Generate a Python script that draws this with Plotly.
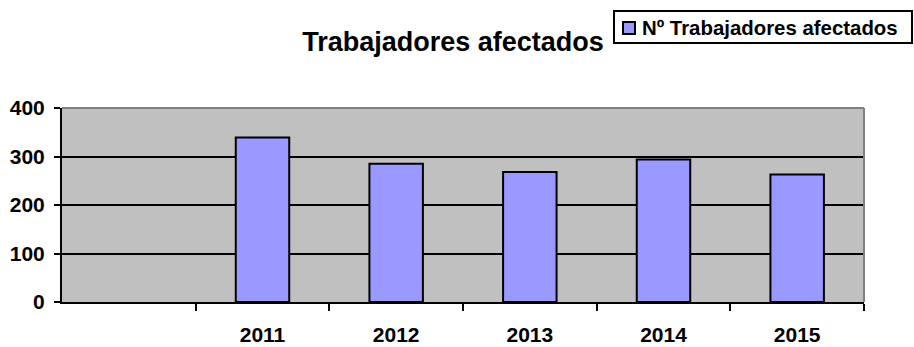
import plotly.graph_objects as go

# Number of workers affected per year
years = ["2011", "2012", "2013", "2014", "2015"]
workers = [339, 285, 268, 294, 263]
series_name = "Nº Trabajadores afectados"
chart_title = "Trabajadores afectados"
y_ticks = [0, 100, 200, 300, 400]

FONT = "Liberation Sans, Arial, sans-serif"
BAR_COLOR = "#9999FF"

W, H = 914, 347
ML, MR, MT, MB = 62, 50, 108, 45
PW, PH = W - ML - MR, H - MT - MB


def px_x(x):
    """Pixel column -> paper x."""
    return (x - ML) / PW


def px_y(y):
    """Pixel row (from top) -> paper y."""
    return (H - MB - y) / PH


fig = go.Figure(
    go.Bar(
        x=years,
        y=workers,
        name=series_name,
        marker=dict(color=BAR_COLOR, line=dict(color="#000000", width=2)),
        showlegend=False,
    )
)

fig.update_layout(
    width=W,
    height=H,
    margin=dict(l=ML, r=MR, t=MT, b=MB, autoexpand=False),
    paper_bgcolor="#FFFFFF",
    plot_bgcolor="#C0C0C0",
    bargap=0.6,
    font=dict(family=FONT, color="#000000"),
    title=dict(
        text=chart_title,
        font=dict(size=27, family=FONT, color="#000000", weight="bold"),
        x=453 / W,
        xanchor="center",
        xref="container",
        y=1 - 42 / H,
        yanchor="middle",
        yref="container",
    ),
    showlegend=False,
)

fig.update_xaxes(
    type="category",
    range=[-1.5, 4.5],
    tickson="boundaries",
    ticks="outside",
    ticklen=7,
    tickwidth=2,
    tickcolor="#000000",
    showline=True,
    linecolor="#000000",
    linewidth=2,
    showgrid=False,
    automargin=False,
    tickfont=dict(size=21, family=FONT, color="#000000", weight="bold"),
    ticklabelstandoff=13,
)

fig.update_yaxes(
    range=[0, 400],
    tickvals=y_ticks,
    ticks="outside",
    ticklen=6,
    tickwidth=2,
    tickcolor="#000000",
    showline=True,
    linecolor="#000000",
    linewidth=2,
    showgrid=True,
    gridcolor="#000000",
    gridwidth=2,
    zeroline=False,
    automargin=False,
    tickfont=dict(size=21, family=FONT, color="#000000", weight="bold"),
    ticklabelstandoff=5,
)

# Grey frame on the top and right edges of the plot area
fig.add_shape(type="line", xref="paper", yref="paper", x0=0, x1=1, y0=1, y1=1,
              line=dict(color="#808080", width=2))
fig.add_shape(type="line", xref="paper", yref="paper", x0=1, x1=1, y0=0, y1=1,
              line=dict(color="#808080", width=2))

# Legend box with the series swatch and name
fig.add_shape(type="rect", xref="paper", yref="paper",
              x0=px_x(614), x1=px_x(912), y0=px_y(43), y1=px_y(11),
              line=dict(color="#000000", width=2), fillcolor="#FFFFFF")
fig.add_shape(type="rect", xref="paper", yref="paper",
              x0=px_x(623), x1=px_x(635), y0=px_y(34), y1=px_y(22),
              line=dict(color="#000000", width=2), fillcolor=BAR_COLOR)
fig.add_annotation(
    text=series_name, xref="paper", yref="paper",
    x=px_x(640), y=px_y(28), xanchor="left", yanchor="middle",
    showarrow=False,
    font=dict(size=20.4, family=FONT, color="#000000", weight="bold"),
)

fig.write_html("out.html")
